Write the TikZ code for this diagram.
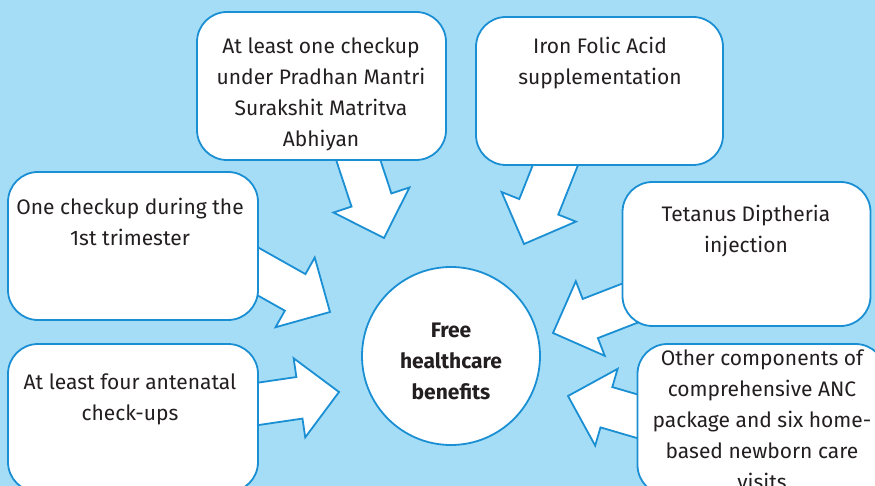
\documentclass[tikz,border=0pt]{standalone}
\usepackage{fontspec}
\setmainfont{Fira Sans}
\usepackage{xcolor}
\definecolor{colSky}{HTML}{A6DDF6}
\definecolor{colEdge}{HTML}{1B8FD3}
\definecolor{colText}{HTML}{231F20}
\usetikzlibrary{calc}
\tikzset{
    infobox/.style={
        draw=colEdge, fill=white, line width=1.8pt,
        rounded corners=30pt,
        minimum width=248pt, minimum height=148pt
    },
    boxtext/.style={align=center, text=colText, inner sep=0pt,
        font=\fontsize{21}{31}\selectfont},
    blockarr/.style={draw=colEdge, fill=white, line width=1.8pt, line join=miter},
    hub/.style={circle, draw=colEdge, fill=white, line width=1.8pt,
        minimum size=178pt, inner sep=0pt},
}
% block arrow from a tail coordinate to a tip coordinate
\newcommand{\blockarrow}[3]{%
    \coordinate (#1-n) at ($(#3)!40pt!(#2)$);
    \draw[blockarr] ($(#2)!21pt!-90:(#3)$) -- ($(#1-n)!21pt!-90:(#3)$)
        -- ($(#1-n)!40pt!-90:(#3)$) -- (#3) -- ($(#1-n)!40pt!90:(#3)$)
        -- ($(#1-n)!21pt!90:(#3)$) -- ($(#2)!21pt!90:(#3)$) -- cycle;
}

\begin{document}
\begin{tikzpicture}[x=1pt, y=-1pt]
    \useasboundingbox (0,0) rectangle (875,486);
    \clip (0,0) rectangle (875,486);
    \fill[colSky] (0,0) rectangle (875,486);

    % arrow tails sit under the boxes
    \coordinate (aT) at (351,138);   \coordinate (aH) at (384,238);
    \coordinate (bT) at (563,146);   \coordinate (bH) at (524,244);
    \coordinate (cT) at (234,258);   \coordinate (cH) at (330,312);
    \coordinate (dT) at (230,408);   \coordinate (dH) at (339,392);
    \coordinate (eT) at (656,293);   \coordinate (eH) at (553,333);
    \coordinate (fT) at (674,427);   \coordinate (fH) at (568,396);

    \blockarrow{a}{aT}{aH}
    \blockarrow{b}{bT}{bH}
    \blockarrow{c}{cT}{cH}
    \blockarrow{d}{dT}{dH}
    \blockarrow{e}{eT}{eH}
    \blockarrow{f}{fT}{fH}

    % boxes
    \node[infobox, minimum width=249pt] (pmsma) at (321.5,86) {};
    \node[infobox, minimum width=247pt] (ifa) at (599.5,91) {};
    \node[infobox, minimum width=250pt] (first) at (133,246) {};
    \node[infobox, minimum height=144pt] (td) at (746.5,254) {};
    \node[infobox, minimum width=250pt] (four) at (133,418) {};
    \node[infobox, minimum height=151pt] (other) at (761.5,419.5) {};

    \node[boxtext] (pmsmaTxt) at (321,94)
          {At least one checkup\\under Pradhan Mantri\\Surakshit Matritva\\Abhiyan};
    \node[boxtext] (ifaTxt) at (600,63) {Iron Folic Acid\\supplementation};
    \node[boxtext] (firstTxt) at (130,222) {One checkup during the\\1st trimester};
    \node[boxtext] (tdTxt) at (746,231) {Tetanus Diptheria\\injection};
    \node[boxtext] (fourTxt) at (130,399) {At least four antenatal\\check-ups};
    \node[boxtext] (otherTxt) at (762,420)
          {Other components of\\comprehensive ANC\\package and six home-\\based newborn care\\visits};

    % centre
    \node[hub] (free) at (451,356) {};
    \node[boxtext, font=\bfseries\fontsize{21}{31}\selectfont] (freeTxt) at (451,361)
          {Free\\healthcare\\benefits};
\end{tikzpicture}
\end{document}
